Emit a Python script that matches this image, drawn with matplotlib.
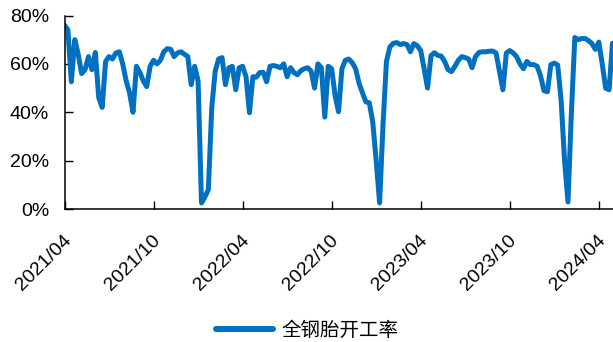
import matplotlib
matplotlib.use("Agg")
import matplotlib.pyplot as plt
from matplotlib.transforms import ScaledTranslation

plt.rcParams['font.family'] = ['Liberation Sans', 'Noto Sans CJK SC', 'DejaVu Sans']

# Weekly full-steel tire operating rate (%), one value per week
rate = [
    76, 74, 52.6, 70, 64, 56, 57.6, 63, 57.6, 64.7,
    46, 42, 61, 63, 62, 64.5, 65, 60, 53, 48,
    40, 59, 56.5, 53, 50.6, 59, 61.5, 60, 61.5, 65,
    66.3, 66, 63, 64.5, 65, 64, 63, 51.4, 59, 53,
    2.5, 5, 8, 42, 57, 62, 62.6, 51.4, 58.4, 59,
    49.3, 58.4, 59, 54.7, 39.8, 54.7, 54.5, 56.4, 56.5, 52.6,
    59, 59.3, 59, 58.4, 60, 54.7, 58.4, 56.4, 55.5, 57.2,
    58, 58.4, 57, 50, 60, 58.4, 38, 59, 58, 47,
    40.2, 58, 61.5, 62, 60.5, 58, 52, 48, 44.3, 43.9,
    36, 20, 2.5, 35, 61, 67, 68.5, 68.8, 68, 68.4,
    68, 65, 68.4, 67.5, 65.5, 58, 50, 63.4, 64.6, 63.5,
    63.2, 61, 57.6, 56.8, 59, 61.5, 63, 62.6, 62, 58.4,
    63, 64.7, 65, 65, 65.2, 65.3, 64.5, 57, 49.3, 64.5,
    65.5, 64.5, 63, 60, 58, 61, 59.7, 59.7, 59, 55,
    48.9, 48.5, 59.7, 60.3, 59.5, 45, 20, 2.9, 40, 70.9,
    70, 70.5, 70.5, 69.6, 68.4, 66, 69, 60, 50, 49.3,
    68.5,
]
week = list(range(len(rate)))

# Category labels shown every 26 weeks
x_tick_pos = [0, 26, 52, 78, 104, 130, 156]
x_tick_labels = ['2021/04', '2021/10', '2022/04', '2022/10', '2023/04', '2023/10', '2024/04']
y_ticks = [0, 20, 40, 60, 80]
y_tick_labels = ['0%', '20%', '40%', '60%', '80%']
series_name = '全钢胎开工率'

W, H = 613, 342
fig = plt.figure(figsize=(W / 100, H / 100), dpi=100)
ax = fig.add_axes([64.5 / W, (H - 209) / H, (W - 64.5) / W, (209 - 15.5) / H])

line_color = '#0070C0'
ax.plot(week, rate, color=line_color, linewidth=3.6, solid_joinstyle='round',
        solid_capstyle='round', label=series_name)

ax.set_xlim(0, (W - 64.5) / 3.425)
ax.set_ylim(0, 80)

for side in ['top', 'right']:
    ax.spines[side].set_visible(False)
for side in ['left', 'bottom']:
    ax.spines[side].set_linewidth(1.1)
    ax.spines[side].set_color('black')

ax.set_yticks(y_ticks)
ax.set_yticklabels(y_tick_labels, fontsize=14)
ax.set_xticks(x_tick_pos)
ax.set_xticklabels(x_tick_labels, fontsize=14, rotation=45, ha='right', va='center',
                   rotation_mode='anchor')
ax.tick_params(axis='both', direction='in', length=5.8, width=1.0, color='black')
ax.tick_params(axis='y', pad=11)
ax.tick_params(axis='x', pad=0)

offset = ScaledTranslation(4 / 100, -29 / 100, fig.dpi_scale_trans)
for lab in ax.get_xticklabels():
    lab.set_transform(lab.get_transform() + offset)

leg = fig.legend(loc='center', bbox_to_anchor=((213 + 402) / 2 / W, (H - 330) / H),
                 frameon=False, handlelength=2.9, handletextpad=0.45,
                 prop={'family': ['Noto Sans CJK SC', 'DejaVu Sans'], 'size': 14,
                       'weight': 'light'})
leg.get_lines()[0].set_linewidth(4.3)

fig.savefig('out.png', dpi=100)
